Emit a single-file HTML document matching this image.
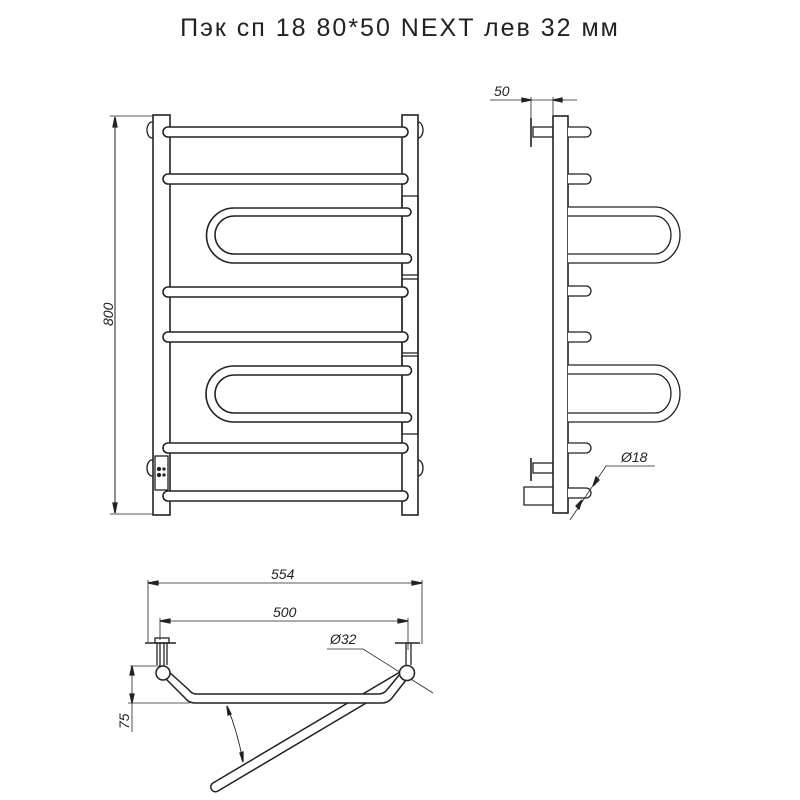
<!DOCTYPE html>
<html><head><meta charset="utf-8"><style>
body{margin:0;background:#fff}
svg{display:block}
text{font-family:"Liberation Sans",sans-serif;fill:#222}
.t{font-style:italic;font-size:14px}
</style></head><body>
<svg width="800" height="800" viewBox="0 0 800 800" xmlns="http://www.w3.org/2000/svg">
<text x="400" y="36" font-size="25" letter-spacing="2" text-anchor="middle">Пэк сп 18 80*50 NEXT лев 32 мм</text>
<g fill="none" stroke="#222" stroke-width="1.3">
<!-- FRONT VIEW -->
<line x1="115" y1="117" x2="115" y2="513" stroke-width="1"/>
<line x1="110" y1="116" x2="153" y2="116" stroke-width="0.8"/>
<line x1="110" y1="514" x2="153" y2="514" stroke-width="0.8"/>
<path d="M115 117 l-2 10 h4z M115 513 l-2 -10 h4z" fill="#222"/>
<ellipse cx="152" cy="130" rx="5" ry="8"/><ellipse cx="418" cy="130" rx="5" ry="8"/>
<ellipse cx="152" cy="468" rx="5" ry="8"/><ellipse cx="418" cy="468" rx="5" ry="8"/>
<rect x="153" y="115" width="17" height="400" fill="#fff" stroke-width="1.6"/>
<rect x="402" y="115" width="16" height="400" fill="#fff" stroke-width="1.6"/>
<rect x="402" y="196" width="16" height="79"/><rect x="402" y="279" width="16" height="74"/><rect x="402" y="356" width="16" height="78"/>
<rect x="155" y="456" width="13" height="34" fill="#fff"/>
<circle cx="159" cy="469" r="1.5" fill="#222"/><circle cx="159" cy="475" r="1.5" fill="#222"/><circle cx="164" cy="469" r="1" fill="#222"/><circle cx="164" cy="475" r="1" fill="#222"/>
<g fill="#fff" stroke-width="1.6">
<rect x="163" y="127" width="245" height="10" rx="5"/>
<rect x="163" y="174" width="245" height="10" rx="5"/>
<rect x="163" y="287" width="245" height="10" rx="5"/>
<rect x="163" y="332" width="245" height="10" rx="5"/>
<rect x="163" y="443" width="245" height="10" rx="5"/>
<rect x="163" y="491" width="245" height="10" rx="5"/>
<path d="M407 208 H234 A27.5 27.5 0 0 0 234 263 H407 a4 4 0 0 0 0 -9 H234 A19 19 0 0 1 234 216 H407 a4 4 0 0 0 0 -8z"/>
<path d="M407 366 H234 A28 28 0 0 0 234 422 H407 a4 4 0 0 0 0 -9 H234 A19 19 0 0 1 234 375 H407 a4 4 0 0 0 0 -9z"/>
</g>
<text class="t" transform="translate(113 326) rotate(-90)" stroke="none">800</text>
<!-- SIDE VIEW -->
<line x1="490" y1="100" x2="577" y2="100" stroke-width="0.8"/>
<line x1="531" y1="97" x2="531" y2="118" stroke-width="0.8"/>
<line x1="553" y1="97" x2="553" y2="115" stroke-width="0.8"/>
<path d="M531 100 l-9 -2 v4z M553 100 l9 -2 v4z" fill="#222"/>
<text class="t" x="494" y="96" stroke="none">50</text>
<line x1="531" y1="118" x2="531" y2="147" stroke-width="1.6"/>
<rect x="533" y="127" width="20" height="10" fill="#fff"/>
<line x1="531" y1="458" x2="531" y2="481" stroke-width="1.6"/>
<rect x="533" y="463" width="20" height="10" fill="#fff"/>
<path d="M524 487 h30 a6 9 0 0 1 0 18 h-30z" fill="#fff"/>
<rect x="553" y="116" width="15" height="397" fill="#fff" stroke-width="1.6"/>
<g fill="#fff">
<path d="M568 127 h18 a5 5 0 0 1 0 10 h-18"/>
<path d="M568 174 h18 a5 5 0 0 1 0 10 h-18"/>
<path d="M568 286 h18 a5 5 0 0 1 0 10 h-18"/>
<path d="M568 332 h18 a5 5 0 0 1 0 10 h-18"/>
<path d="M568 443 h18 a5 5 0 0 1 0 10 h-18"/>
<path d="M568 488 h18 a5 5 0 0 1 0 10 h-18"/>
<path d="M568 207 H655 A25 28 0 0 1 655 263 H568 M568 216 H655 A16 19 0 0 1 655 254 H568"/>
<path d="M568 365 H655 A25 28.5 0 0 1 655 422 H568 M568 374 H655 A16 19.5 0 0 1 655 413 H568"/>
</g>
<path d="M570 520 L606 466 H655" stroke-width="0.8"/>
<path d="M593 486 l3 -9 l3 3z M582 500 l-3 9 l-3 -3z" fill="#222"/>
<text class="t" x="621" y="462" stroke="none">Ø18</text>
<!-- BOTTOM VIEW -->
<line x1="148" y1="583" x2="422" y2="583" stroke-width="0.8"/>
<line x1="148" y1="580" x2="148" y2="642" stroke-width="0.8"/>
<line x1="422" y1="580" x2="422" y2="644" stroke-width="0.8"/>
<path d="M148 583 l10 -2 v4z M422 583 l-10 -2 v4z" fill="#222"/>
<text class="t" x="271" y="579" stroke="none">554</text>
<line x1="160" y1="621" x2="408" y2="621" stroke-width="0.8"/>
<line x1="160" y1="618" x2="160" y2="640" stroke-width="0.8"/>
<line x1="408" y1="618" x2="408" y2="650" stroke-width="0.8"/>
<path d="M160 621 l10 -2 v4z M408 621 l-10 -2 v4z" fill="#222"/>
<text class="t" x="273" y="617" stroke="none">500</text>
<line x1="145" y1="643" x2="176" y2="643" stroke-width="1.6"/>
<rect x="155" y="638" width="14" height="5"/>
<path d="M157 643 v22 M167 643 v22 M160 643 v26 M164 643 v26"/>
<line x1="395" y1="643" x2="420" y2="643" stroke-width="1.6"/>
<path d="M406 643 v22 M411 643 v22"/>
<path d="M130 666 H162 M128 703 H190" stroke-width="0.8"/>
<line x1="132" y1="666" x2="132" y2="732" stroke-width="0.8"/>
<path d="M132 666 l-2 9 h4z M132 703 l-2 -9 h4z" fill="#222"/>
<text class="t" transform="translate(129 729) rotate(-90)" stroke="none">75</text>
<path d="M327 649 H363 L433 693" stroke-width="0.8"/>
<text class="t" x="330" y="644" stroke="none" font-size="15">Ø32</text>
<g fill="#fff" stroke-width="1.5">
<path d="M213 783 L400 672 L405 680 L218 791 A4.5 4.5 0 0 1 213 783z"/>
<path d="M163 676 L185 698 Q189 703 195 703 H382 Q388 703 392 698 L406 680 L400 674 L386 691 Q383 694 378 694 H196 Q192 694 189 690 L168 671z"/>
<circle cx="163" cy="673" r="7"/>
<circle cx="407" cy="673" r="7.5"/>
</g>
<path d="M227 706 Q238 733 243 762" stroke-width="0.9"/>
<path d="M227 706 l1 9 l3 -1z M243 762 l-3 -9 l3 -1z" fill="#222"/>
</g>
</svg>
</body></html>
